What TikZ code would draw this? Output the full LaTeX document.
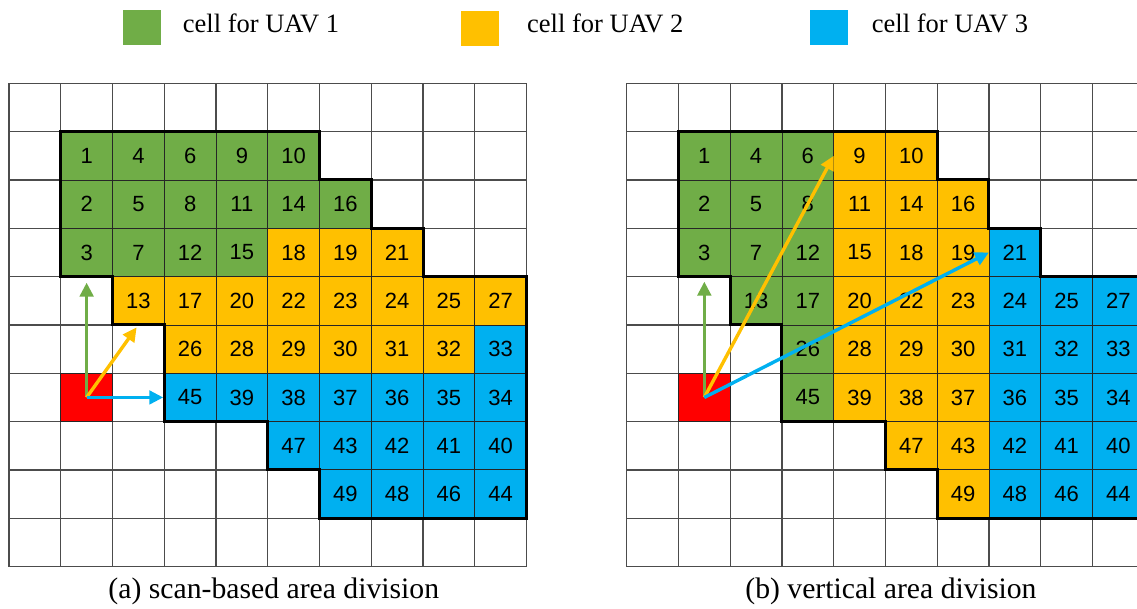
\documentclass[tikz,border=0pt]{standalone}
\usepackage{fontspec}
\setmainfont{Liberation Serif}
\newfontfamily\cellfont{Liberation Sans}
\usetikzlibrary{arrows.meta}
\definecolor{uavgreen}{HTML}{70AD47}
\definecolor{uavyellow}{HTML}{FFC000}
\definecolor{uavblue}{HTML}{00B0F0}
\definecolor{basered}{HTML}{FF0000}
\tikzset{
  gridline/.style={draw=black!70, line width=1.2pt},
  cellbox/.style={minimum width=51.75pt, minimum height=48.33pt, inner sep=0pt,
    outer sep=0pt, draw=black!85, line width=0.9pt,
    font=\cellfont\fontsize{22}{22}\selectfont},
  areaborder/.style={draw=black, line width=3pt, line join=miter},
  uavarrow/.style={line width=3.4pt, -{Triangle[length=14pt,width=13.5pt]}},
  legendbox/.style={minimum width=38.5pt, minimum height=35pt, inner sep=0pt, outer sep=0pt},
  legendtext/.style={anchor=base west, inner sep=0pt, font=\fontsize{26.5}{26.5}\selectfont},
  captiontext/.style={anchor=base, inner sep=0pt, font=\fontsize{29.7}{29.7}\selectfont},
}
% 10 x 10 grid of square cells and the thick border of the covered area
\newcommand\fieldlines{%
  \foreach \i in {0,...,10} {
    \draw[gridline] (\i,0) -- (\i,10);
    \draw[gridline] (0,\i) -- (10,\i);
  }}
\newcommand\fieldborder{%
  \draw[areaborder] (1,1) -- (6,1) -- (6,2) -- (7,2) -- (7,3) -- (8,3) -- (8,4)
    -- (10,4) -- (10,9) -- (6,9) -- (6,8) -- (5,8) -- (5,7) -- (3,7) -- (3,5)
    -- (2,5) -- (2,4) -- (1,4) -- cycle;}

\begin{document}
\begin{tikzpicture}[x=1pt,y=-1pt]
\useasboundingbox (0,0) rectangle (1137,608);
\clip (0,0) rectangle (1137,608);

% legend
\node[legendbox, fill=uavgreen]  (legG) at (141.8,27) {};
\node[legendbox, fill=uavyellow] (legY) at (480.0,28) {};
\node[legendbox, fill=uavblue]   (legB) at (828.8,27) {};
\node[legendtext] (legGtxt) at (182.7,32.3) {cell for UAV 1};
\node[legendtext] (legYtxt) at (527.0,32.3) {cell for UAV 2};
\node[legendtext] (legBtxt) at (871.7,32.3) {cell for UAV 3};

% (a) scan-based division
\begin{scope}[shift={(9pt,-83.3pt)}, x=51.75pt, y=-48.33pt]
  \fieldlines
  \node[cellbox, fill=basered] (Lbase) at (1.5,6.5) {};
  \foreach \c/\r/\n in {1/1/1, 2/1/4, 3/1/6, 4/1/9, 5/1/10, 1/2/2, 2/2/5, 3/2/8,
      4/2/11, 5/2/14, 6/2/16, 1/3/3, 2/3/7, 3/3/12, 4/3/15}
    \node[cellbox, fill=uavgreen] (L\n) at (\c+0.5,\r+0.5) {\n};
  \foreach \c/\r/\n in {5/3/18, 6/3/19, 7/3/21, 2/4/13, 3/4/17, 4/4/20, 5/4/22,
      6/4/23, 7/4/24, 8/4/25, 9/4/27, 3/5/26, 4/5/28, 5/5/29, 6/5/30, 7/5/31, 8/5/32}
    \node[cellbox, fill=uavyellow] (L\n) at (\c+0.5,\r+0.5) {\n};
  \foreach \c/\r/\n in {9/5/33, 3/6/45, 4/6/39, 5/6/38, 6/6/37, 7/6/36, 8/6/35,
      9/6/34, 5/7/47, 6/7/43, 7/7/42, 8/7/41, 9/7/40, 6/8/49, 7/8/48, 8/8/46, 9/8/44}
    \node[cellbox, fill=uavblue] (L\n) at (\c+0.5,\r+0.5) {\n};
  \fieldborder
  \draw[uavarrow, uavgreen, shorten >=6pt] (Lbase.center) -- (L3.south);
  \draw[uavarrow, uavyellow, shorten >=3pt] (Lbase.center) -- (L13.south);
  \draw[uavarrow, uavblue, shorten >=1pt] (Lbase.center) -- (L45.west);
\end{scope}
\node[captiontext] (capA) at (273.8,598) {(a) scan-based area division};

% (b) vertical division
\begin{scope}[shift={(626.7pt,-83.3pt)}, x=51.75pt, y=-48.33pt]
  \fieldlines
  \node[cellbox, fill=basered] (Rbase) at (1.5,6.5) {};
  \foreach \c/\r/\n in {1/1/1, 2/1/4, 3/1/6, 1/2/2, 2/2/5, 3/2/8, 1/3/3, 2/3/7,
      3/3/12, 2/4/13, 3/4/17, 3/5/26, 3/6/45}
    \node[cellbox, fill=uavgreen] (R\n) at (\c+0.5,\r+0.5) {\n};
  \foreach \c/\r/\n in {4/1/9, 5/1/10, 4/2/11, 5/2/14, 6/2/16, 4/3/15, 5/3/18,
      6/3/19, 4/4/20, 5/4/22, 6/4/23, 4/5/28, 5/5/29, 6/5/30, 4/6/39, 5/6/38,
      6/6/37, 5/7/47, 6/7/43, 6/8/49}
    \node[cellbox, fill=uavyellow] (R\n) at (\c+0.5,\r+0.5) {\n};
  \foreach \c/\r/\n in {7/3/21, 7/4/24, 8/4/25, 9/4/27, 7/5/31, 8/5/32, 9/5/33,
      7/6/36, 8/6/35, 9/6/34, 7/7/42, 8/7/41, 9/7/40, 7/8/48, 8/8/46, 9/8/44}
    \node[cellbox, fill=uavblue] (R\n) at (\c+0.5,\r+0.5) {\n};
  \fieldborder
  \draw[uavarrow, uavgreen, shorten >=5pt] (Rbase.center) -- (R3.south);
  \draw[uavarrow, uavyellow] (Rbase.center) -- (R9.west);
  \draw[uavarrow, uavblue] (Rbase.center) -- (R21.west);
\end{scope}
\node[captiontext] (capB) at (890.9,598) {(b) vertical area division};
\end{tikzpicture}
\end{document}
